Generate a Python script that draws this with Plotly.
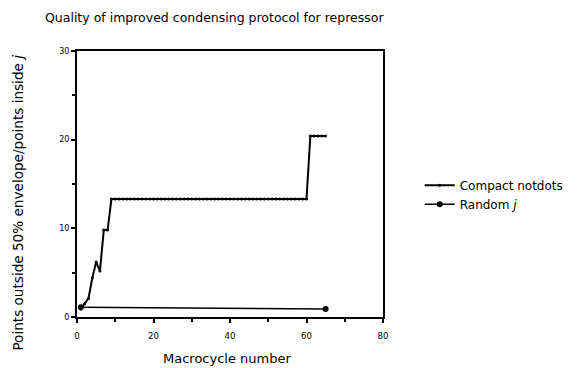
import plotly.graph_objects as go

compact_x = [1, 2, 3, 4, 5, 6, 7, 8, 9, 10, 11, 12, 13, 14, 15, 16, 17, 18, 19, 20,
             21, 22, 23, 24, 25, 26, 27, 28, 29, 30, 31, 32, 33, 34, 35, 36, 37, 38, 39, 40,
             41, 42, 43, 44, 45, 46, 47, 48, 49, 50, 51, 52, 53, 54, 55, 56, 57, 58, 59, 60,
             61, 62, 63, 64, 65]
compact_y = [0.9, 1.5, 2.1, 4.4, 6.2, 5.2, 9.8, 9.8, 13.3] + [13.3] * 51 + [20.4] * 5

random_x = [1, 65]
random_y = [1.1, 0.9]

x_ticks = [0, 20, 40, 60, 80]
y_ticks = [0, 10, 20, 30]

fig = go.Figure()
fig.add_trace(go.Scatter(
    x=compact_x, y=compact_y, mode="lines+markers", name="Compact notdots",
    line=dict(color="black", width=2), marker=dict(color="black", size=3),
))
fig.add_trace(go.Scatter(
    x=random_x, y=random_y, mode="lines+markers", name="Random <i>j</i>",
    line=dict(color="black", width=1.5), marker=dict(color="black", size=6),
))

font = "DejaVu Sans, Verdana, sans-serif"
fig.update_layout(
    width=584, height=368,
    margin=dict(l=77, r=201, t=51, b=51, autoexpand=False),
    paper_bgcolor="white", plot_bgcolor="white",
    font=dict(family=font, color="black", size=11),
    title=dict(text="Quality of improved condensing protocol for repressor",
               x=45 / 584, xanchor="left", y=1 - 18 / 368, yanchor="middle",
               font=dict(size=12.5)),
    showlegend=True,
    legend=dict(x=1.12, xanchor="left", y=0.55, yanchor="top",
                font=dict(size=12), tracegroupgap=0, itemwidth=30,
                bgcolor="rgba(0,0,0,0)"),
    annotations=[
        dict(text="Points outside 50% envelope/points inside <i>j</i>",
             xref="paper", yref="paper", x=-59 / 306, y=0.43,
             xanchor="center", yanchor="middle", textangle=-90, showarrow=False,
             font=dict(size=13.6)),
        dict(text="Macrocycle number",
             xref="paper", yref="paper", x=0.49, y=-41 / 266,
             xanchor="center", yanchor="middle", showarrow=False,
             font=dict(size=13)),
    ],
)
fig.update_xaxes(
    range=[0, 80], tickvals=x_ticks, ticktext=[str(v) for v in x_ticks],
    ticks="outside", ticklen=4, tickwidth=1.5, tickcolor="black",
    minor=dict(tickvals=[10, 30, 50, 70], ticks="outside", ticklen=3, tickcolor="black"),
    showline=True, linecolor="black", linewidth=2, mirror=True,
    showgrid=False, zeroline=False, automargin=False,
    tickfont=dict(size=8.5), ticklabelstandoff=6,
)
fig.update_yaxes(
    range=[0, 30], tickvals=y_ticks, ticktext=[str(v) for v in y_ticks],
    ticks="outside", ticklen=4, tickwidth=1.5, tickcolor="black",
    minor=dict(tickvals=[5, 15, 25], ticks="outside", ticklen=3, tickcolor="black"),
    showline=True, linecolor="black", linewidth=2, mirror=True,
    showgrid=False, zeroline=False, automargin=False,
    tickfont=dict(size=8),
)

fig.write_html("out.html")
